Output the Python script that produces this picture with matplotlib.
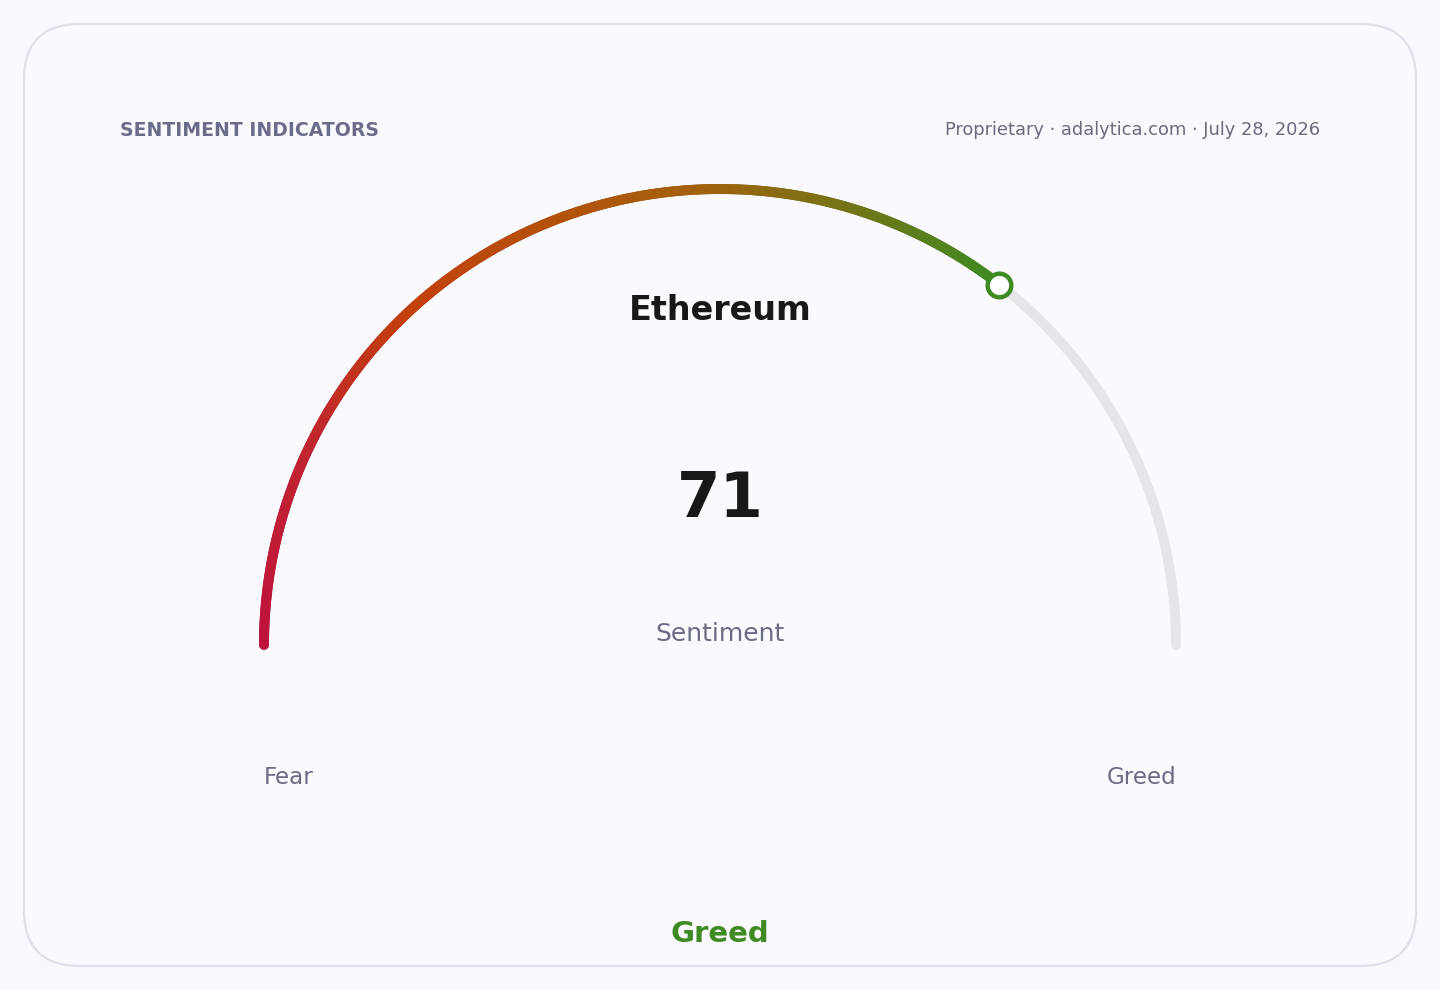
import numpy as np
import matplotlib
matplotlib.use("Agg")
import matplotlib.pyplot as plt
from matplotlib.collections import LineCollection
from matplotlib.colors import LinearSegmentedColormap
from matplotlib.patches import FancyBboxPatch

# ---- data ----
asset = "Ethereum"
value = 71
value_min, value_max = 0, 100
metric_label = "Sentiment"
low_label = "Fear"
high_label = "Greed"
zone_label = "Greed"
header_left = "SENTIMENT INDICATORS"
header_right = "Proprietary \u00b7 adalytica.com \u00b7 July 28, 2026"
gradient_colors = ["#be123c", "#c02530", "#c2410c", "#a5600c", "#3f8a22"]
gradient_stops = [0.0, 0.2, 0.38, 0.68, 1.0]

# ---- layout ----
W, H = 1440, 990
fig = plt.figure(figsize=(W / 100, H / 100), dpi=100)
fig.patch.set_facecolor("#f8f8fd")
ax = fig.add_axes([0, 0, 1, 1])
ax.set_xlim(0, W)
ax.set_ylim(H, 0)
ax.set_aspect("equal")
ax.axis("off")

card = FancyBboxPatch((24, 24), 1392, 942, boxstyle="round,pad=0,rounding_size=56",
                      facecolor="#f9f9fe", edgecolor="#e0e0ec", linewidth=1.6)
ax.add_patch(card)

cx, cy, R = 720, 645, 456
lw = 7.2

def ang(v):
    return np.pi * (1 - (v - value_min) / (value_max - value_min))

# track
t = np.linspace(ang(value_min), ang(value_max), 400)
ax.plot(cx + R * np.cos(t), cy - R * np.sin(t), color="#e6e6ea", lw=lw,
        solid_capstyle="round", zorder=2)

# gradient arc
n = 400
vs = np.linspace(value_min, value, n + 1)
ts = ang(vs)
xs = cx + R * np.cos(ts)
ys = cy - R * np.sin(ts)
pts = np.column_stack([xs, ys]).reshape(-1, 1, 2)
segs = np.concatenate([pts[:-1], pts[1:]], axis=1)
cmap = LinearSegmentedColormap.from_list("g", list(zip(gradient_stops, gradient_colors)))
cols = cmap(np.linspace(0, 1, n))
lc = LineCollection(segs, colors=cols, linewidths=lw, capstyle="round", zorder=3)
ax.add_collection(lc)

# marker
ta = ang(value)
ax.plot([cx + R * np.cos(ta)], [cy - R * np.sin(ta)], marker="o", markersize=17,
        markerfacecolor="white", markeredgecolor="#3f8a22", markeredgewidth=3.2, zorder=5)

# texts
ax.text(120, 130, header_left, fontsize=13.6, fontweight="bold", color="#6b6b8a",
        ha="left", va="center")
ax.text(1320, 130, header_right, fontsize=12.9, color="#6b6b80", ha="right", va="center")
ax.text(720, 310, asset, fontsize=24, fontweight="bold", color="#18181b",
        ha="center", va="center")
ax.text(720, 500, str(value), fontsize=45, fontweight="bold", color="#18181b",
        ha="center", va="center")
ax.text(720, 634, metric_label, fontsize=18, color="#6b6b85", ha="center", va="center")
ax.text(264, 778, low_label, fontsize=16.6, color="#6b6b85", ha="left", va="center")
ax.text(1176, 778, high_label, fontsize=16.6, color="#6b6b85", ha="right", va="center")
ax.text(720, 934, zone_label, fontsize=21, fontweight="bold", color="#3f8a22",
        ha="center", va="center")

fig.savefig("out.png", dpi=100, facecolor=fig.get_facecolor())
